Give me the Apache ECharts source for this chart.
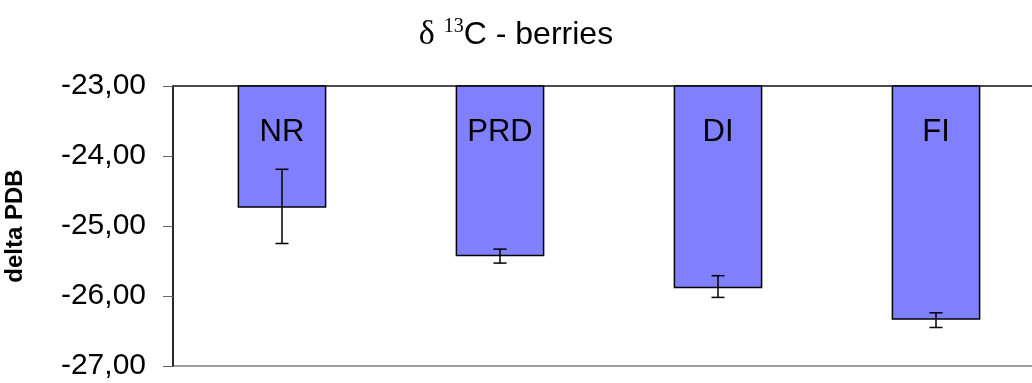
<!DOCTYPE html>
<html>
<head>
<meta charset="utf-8">
<script src="https://cdn.jsdelivr.net/npm/echarts@6/dist/echarts.min.js"></script>
<style>
  html, body { margin: 0; padding: 0; background: #fff; }
  #chart { width: 1032px; height: 383px; }
</style>
</head>
<body>
<div id="chart"></div>
<script>
var categories = ['NR', 'PRD', 'DI', 'FI']
var means = [-24.73, -25.42, -25.88, -26.33]
var errLow = [-25.25, -25.53, -26.02, -26.45]
var errHigh = [-24.19, -25.33, -25.71, -26.24]
var yTop = -23
var yBottom = -27

var sans = '"Liberation Sans", Arial, sans-serif'
var serif = '"Liberation Serif", "Times New Roman", serif'

var chart = echarts.init(document.getElementById('chart'))

// bars hang down from the top of the axis (-23)
function renderBar (params, api) {
  var i = api.value(0)
  var top = api.coord([i, yTop])
  var bot = api.coord([i, api.value(1)])
  var w = api.size([1, 0])[0] * 0.4
  return {
    type: 'group',
    children: [{
      type: 'rect',
      shape: { x: top[0] - w / 2, y: top[1], width: w, height: bot[1] - top[1] },
      style: { fill: '#8080FF', stroke: '#000', lineWidth: 1.5 }
    }, {
      type: 'text',
      x: top[0],
      y: top[1] + 46,
      style: {
        text: categories[i],
        fill: '#000',
        font: '31px ' + sans,
        align: 'center',
        verticalAlign: 'middle'
      }
    }]
  }
}

function renderErr (params, api) {
  var i = api.value(0)
  var lo = api.coord([i, api.value(1)])
  var hi = api.coord([i, api.value(2)])
  var c = 6.5
  var st = { stroke: '#000', lineWidth: 1.5 }
  return {
    type: 'group',
    children: [
      { type: 'line', shape: { x1: lo[0], y1: lo[1], x2: hi[0], y2: hi[1] }, style: st },
      { type: 'line', shape: { x1: lo[0] - c, y1: lo[1], x2: lo[0] + c, y2: lo[1] }, style: st },
      { type: 'line', shape: { x1: hi[0] - c, y1: hi[1], x2: hi[0] + c, y2: hi[1] }, style: st }
    ]
  }
}

chart.setOption({
  animation: false,
  title: {
    left: 'center',
    top: 12,
    text: '{d|δ} {s|13}{n|C - berries}',
    textStyle: {
      fontFamily: sans,
      fontSize: 32,
      fontWeight: 'normal',
      color: '#000',
      rich: {
        d: { fontFamily: serif, fontSize: 34, fontWeight: 'normal', color: '#000', lineHeight: 36 },
        s: { fontFamily: serif, fontSize: 20, fontWeight: 'normal', color: '#000', lineHeight: 36, verticalAlign: 'top' },
        n: { fontFamily: sans, fontSize: 32, fontWeight: 'normal', color: '#000', lineHeight: 36 }
      }
    }
  },
  grid: {
    left: 173,
    top: 86,
    bottom: 17,
    right: -13,
    outerBoundsMode: 'none',
    containLabel: false,
    show: true,
    borderColor: '#808080',
    borderWidth: 1.5
  },
  xAxis: {
    type: 'category',
    position: 'top',
    data: categories,
    axisLine: { lineStyle: { color: '#333', width: 1.5 } },
    axisTick: { inside: true, length: 10, lineStyle: { color: '#333' } },
    axisLabel: { show: false }
  },
  yAxis: {
    type: 'value',
    min: yBottom,
    max: yTop,
    interval: 1,
    name: 'delta PDB',
    nameLocation: 'middle',
    nameGap: 146,
    nameTextStyle: { fontFamily: sans, fontWeight: 'bold', fontSize: 24, color: '#000' },
    axisLine: { show: true, lineStyle: { color: '#000', width: 1.5 } },
    axisTick: { show: true, length: 10, lineStyle: { color: '#666' } },
    axisLabel: {
      margin: 27,
      fontFamily: sans,
      fontSize: 30,
      color: '#000',
      formatter: function (v) { return v.toFixed(2).replace('.', ',') }
    },
    splitLine: { show: false }
  },
  series: [{
    type: 'custom',
    renderItem: renderBar,
    data: categories.map(function (c, i) { return [i, means[i]] }),
    z: 2
  }, {
    type: 'custom',
    renderItem: renderErr,
    data: categories.map(function (c, i) { return [i, errLow[i], errHigh[i]] }),
    z: 3
  }]
})
</script>
</body>
</html>
